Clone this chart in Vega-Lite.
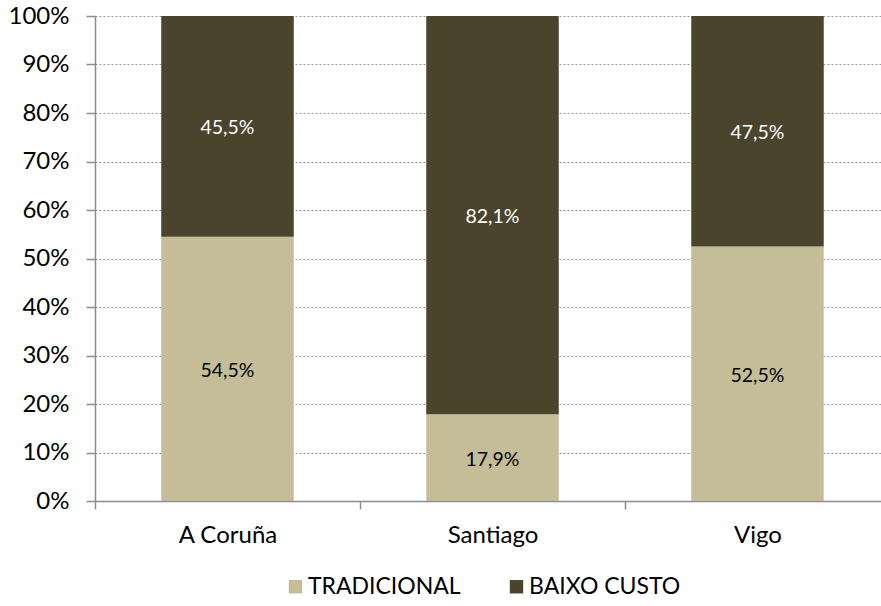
{
  "$schema": "https://vega.github.io/schema/vega-lite/v6.json",
  "autosize": {"type": "none"},
  "width": 795,
  "height": 485,
  "padding": {"left": 95, "top": 16, "right": 0, "bottom": 105},
  "background": "white",
  "config": {
    "view": {"stroke": null},
    "font": "Lato",
    "locale": {"number": {"decimal": ",", "thousands": ".", "grouping": [3], "currency": ["", " €"]}}
  },
  "data": {
    "values": [
      {"cidade": "A Coruña", "tipo": "TRADICIONAL", "valor": 0.545},
      {"cidade": "A Coruña", "tipo": "BAIXO CUSTO", "valor": 0.455},
      {"cidade": "Santiago", "tipo": "TRADICIONAL", "valor": 0.179},
      {"cidade": "Santiago", "tipo": "BAIXO CUSTO", "valor": 0.821},
      {"cidade": "Vigo", "tipo": "TRADICIONAL", "valor": 0.525},
      {"cidade": "Vigo", "tipo": "BAIXO CUSTO", "valor": 0.475}
    ]
  },
  "transform": [
    {"stack": "valor", "groupby": ["cidade"], "sort": [{"field": "tipo", "order": "descending"}], "as": ["v0", "v1"]},
    {"calculate": "(datum.v0 + datum.v1) / 2", "as": "vmid"}
  ],
  "layer": [
    {
      "mark": {"type": "bar", "width": {"band": 0.5}},
      "encoding": {
        "x": {
          "field": "cidade", "type": "nominal", "sort": ["A Coruña", "Santiago", "Vigo"],
          "scale": {"paddingInner": 0, "paddingOuter": 0},
          "axis": {
            "title": null, "labelAngle": 0, "labelFontSize": 24, "labelColor": "#000000",
            "domainColor": "#8c8c8c", "domainWidth": 1.5, "tickColor": "#8c8c8c", "tickWidth": 1.5,
            "tickSize": 8, "tickBand": "extent", "labelPadding": 14, "grid": false
          }
        },
        "y": {
          "field": "v1", "type": "quantitative",
          "scale": {"domain": [0, 1], "nice": false},
          "axis": {
            "title": null, "format": ".0%", "values": [0,0.1,0.2,0.3,0.4,0.5,0.6,0.7,0.8,0.9,1],
            "labelOverlap": false, "labelFlush": false,
            "labelFontSize": 24, "labelColor": "#000000", "labelPadding": 17,
            "domainColor": "#8c8c8c", "domainWidth": 1.5, "tickColor": "#8c8c8c", "tickWidth": 1.5, "tickSize": 9,
            "grid": true, "gridColor": "#999999", "gridDash": [2, 2], "gridWidth": 1
          }
        },
        "y2": {"field": "v0"},
        "color": {
          "field": "tipo", "type": "nominal",
          "scale": {"domain": ["TRADICIONAL", "BAIXO CUSTO"], "range": ["#C4BD97", "#4A442D"]},
          "legend": {
            "title": null, "orient": "none", "legendX": 189, "legendY": 559, "direction": "horizontal", "symbolType": "square",
            "symbolSize": 180, "symbolStrokeWidth": 0, "labelFontSize": 23, "labelColor": "#000000",
            "columnPadding": 44, "labelOffset": 1
          }
        }
      }
    },
    {
      "mark": {"type": "text", "fontSize": 19.5, "baseline": "middle", "align": "center", "dy": 2},
      "encoding": {
        "x": {"field": "cidade", "type": "nominal", "sort": ["A Coruña", "Santiago", "Vigo"]},
        "y": {"field": "vmid", "type": "quantitative"},
        "text": {"field": "valor", "type": "quantitative", "format": ".1%"},
        "color": {"condition": {"test": "datum.tipo === 'BAIXO CUSTO'", "value": "#ffffff"}, "value": "#000000"}
      }
    }
  ]
}
